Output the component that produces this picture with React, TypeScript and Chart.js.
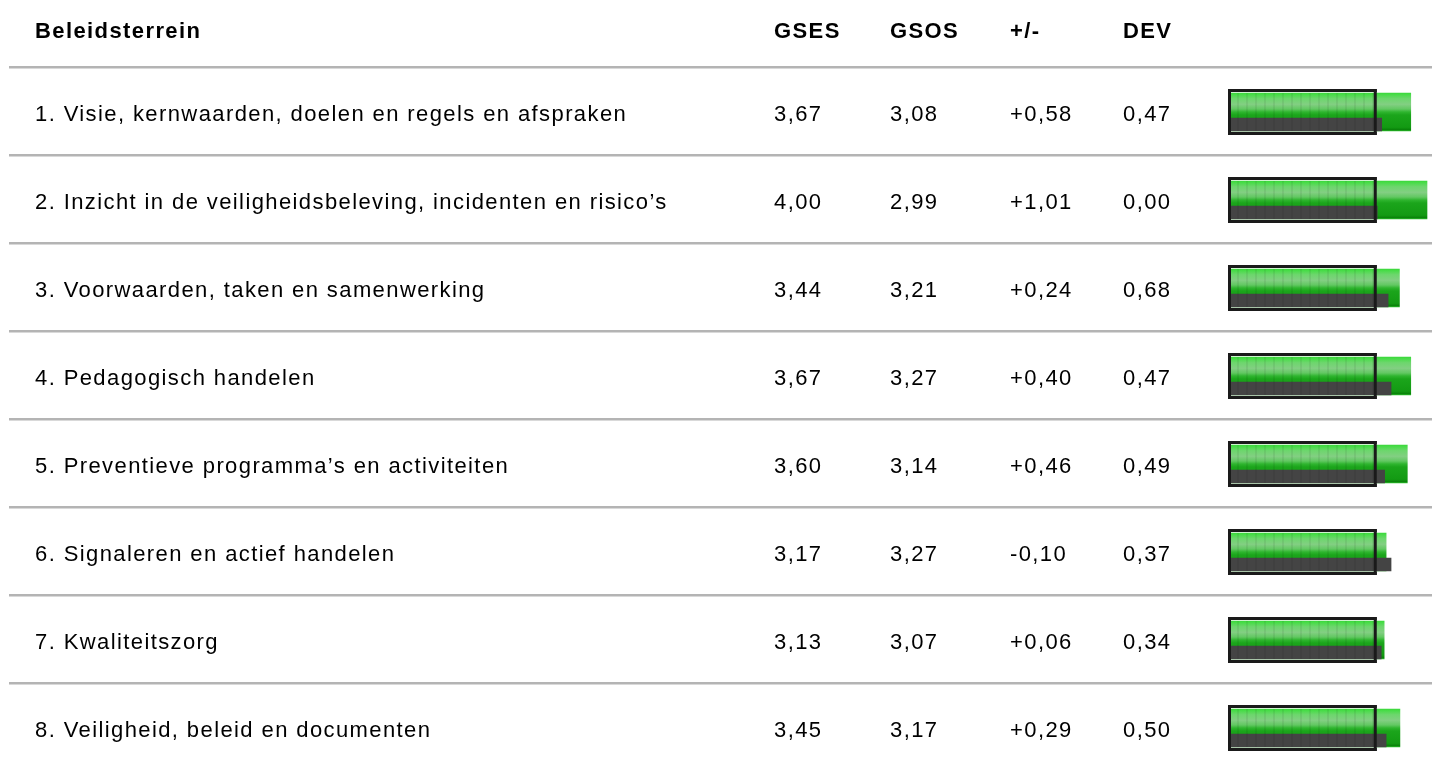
import React, { useEffect, useRef } from "react";
import { Chart, registerables } from "chart.js";

Chart.register(...registerables);

const categories = [
  "1. Visie, kernwaarden, doelen en regels en afspraken",
  "2. Inzicht in de veiligheidsbeleving, incidenten en risico’s",
  "3. Voorwaarden, taken en samenwerking",
  "4. Pedagogisch handelen",
  "5. Preventieve programma’s en activiteiten",
  "6. Signaleren en actief handelen",
  "7. Kwaliteitszorg",
  "8. Veiligheid, beleid en documenten",
];
const gses = [3.67, 4.0, 3.44, 3.67, 3.6, 3.17, 3.13, 3.45];
const gsos = [3.08, 2.99, 3.21, 3.27, 3.14, 3.27, 3.07, 3.17];
const diff = ["+0,58", "+1,01", "+0,24", "+0,40", "+0,46", "-0,10", "+0,06", "+0,29"];
const dev = [0.47, 0.0, 0.68, 0.47, 0.49, 0.37, 0.34, 0.5];
const headers = ["Beleidsterrein", "GSES", "GSOS", "+/-", "DEV"];
const norm = 3;

const FONT = "'Liberation Sans', Arial, Helvetica, sans-serif";
const fmt = (v: number) => v.toFixed(2).replace(".", ",");

const GREEN_H = 38;
const GRAY_H = 13;
const GRAY_SHIFT = 12.5;

export default function App() {
  const ref = useRef<HTMLCanvasElement | null>(null);
  useEffect(() => {
    if (!ref.current) return;
    const colX = [35, 774, 890, 1010, 1123];

    const tablePlugin = {
      id: "table",
      afterDatasetsUpdate(chart: any) {
        const meta = chart.getDatasetMeta(1);
        meta.data.forEach((el: any) => {
          el.y = el.y + GRAY_SHIFT;
        });
      },
      beforeDatasetsDraw(chart: any) {
        const ctx = chart.ctx;
        const y = chart.scales.y;
        ctx.save();
        ctx.fillStyle = "#b4b4b4";
        const step = y.getPixelForValue(1) - y.getPixelForValue(0);
        ctx.fillRect(9, 66, 1423, 2.5);
        for (let i = 0; i < categories.length - 1; i++) {
          const c = y.getPixelForValue(i) + step / 2 - 1;
          ctx.fillRect(9, Math.round(c) - 1, 1423, 2.5);
        }
        ctx.fillStyle = "#000";
        ctx.textBaseline = "alphabetic";
        try {
          ctx.letterSpacing = "1.4px";
        } catch (e) {}
        ctx.font = `bold 22px ${FONT}`;
        headers.forEach((h, k) => ctx.fillText(h, colX[k], 38));
        ctx.font = `22px ${FONT}`;
        categories.forEach((cat, i) => {
          const cy = y.getPixelForValue(i) + 9;
          ctx.fillText(cat, colX[0], cy);
          ctx.fillText(fmt(gses[i]), colX[1], cy);
          ctx.fillText(fmt(gsos[i]), colX[2], cy);
          ctx.fillText(diff[i], colX[3], cy);
          ctx.fillText(fmt(dev[i]), colX[4], cy);
        });
        ctx.restore();
      },
      afterDatasetsDraw(chart: any) {
        const ctx = chart.ctx;
        const x = chart.scales.x;
        const y = chart.scales.y;
        const x0 = x.getPixelForValue(0);
        const x3 = x.getPixelForValue(norm);
        ctx.save();
        categories.forEach((_, i) => {
          const c = y.getPixelForValue(i);
          ctx.fillStyle = "rgba(0,0,0,0.06)";
          for (let sx = x0 + 7; sx < x3 - 4; sx += 9) {
            ctx.fillRect(sx, c - 19, 2, 38);
          }
          ctx.fillStyle = "#1a1a1a";
          const L = x0 - 2;
          const R = x3 - 1;
          ctx.fillRect(L, c - 23, R - L, 3);
          ctx.fillRect(L, c + 20, R - L, 3);
          ctx.fillRect(L, c - 23, 3, 46);
          ctx.fillRect(R - 3, c - 23, 3, 46);
        });
        ctx.restore();
      },
    };

    const greenFill = (context: any) => {
      const chart = context.chart;
      const y = chart.scales?.y;
      if (!y || context.dataIndex === undefined) return "#22aa22";
      const c = y.getPixelForValue(context.dataIndex);
      if (!Number.isFinite(c)) return "#22aa22";
      const top = c - GREEN_H / 2;
      const g = chart.ctx.createLinearGradient(0, top, 0, top + GREEN_H);
      g.addColorStop(0, "#3bd83b");
      g.addColorStop(0.05, "#4bdc4b");
      g.addColorStop(0.15, "#6dd66d");
      g.addColorStop(0.3, "#82cf82");
      g.addColorStop(0.42, "#62c862");
      g.addColorStop(0.5, "#2fb52f");
      g.addColorStop(0.58, "#1ba51b");
      g.addColorStop(0.9, "#139a13");
      g.addColorStop(0.95, "#0b8a0b");
      g.addColorStop(0.97, "#0a7f0a");
      g.addColorStop(1, "#2cc22c");
      return g;
    };

    const chart = new Chart(ref.current, {
      type: "bar",
      data: {
        labels: categories,
        datasets: [
          {
            label: "GSES",
            data: gses,
            backgroundColor: greenFill,
            barThickness: GREEN_H,
            grouped: false,
            borderWidth: 0,
            clip: false,
            order: 2,
          } as any,
          {
            label: "GSOS",
            data: gsos,
            backgroundColor: "#444444",
            barThickness: GRAY_H,
            grouped: false,
            borderWidth: 0,
            clip: false,
            order: 1,
          } as any,
        ],
      },
      options: {
        indexAxis: "y",
        animation: false,
        responsive: false,
        maintainAspectRatio: false,
        events: [],
        layout: { padding: { left: 1230, right: 5, top: 112, bottom: 765 - 728 } },
        plugins: { legend: { display: false }, tooltip: { enabled: false } },
        scales: {
          x: { display: false, min: 0, max: 4 },
          y: { display: false, offset: false, grid: { display: false } },
        },
      },
      plugins: [tablePlugin],
    });
    return () => chart.destroy();
  }, []);

  return (
    <div style={{ position: "fixed", left: 0, top: 0, width: 1432, height: 765, background: "#fff" }}>
      <canvas ref={ref} width={1432} height={765} style={{ width: 1432, height: 765, display: "block" }} />
    </div>
  );
}
